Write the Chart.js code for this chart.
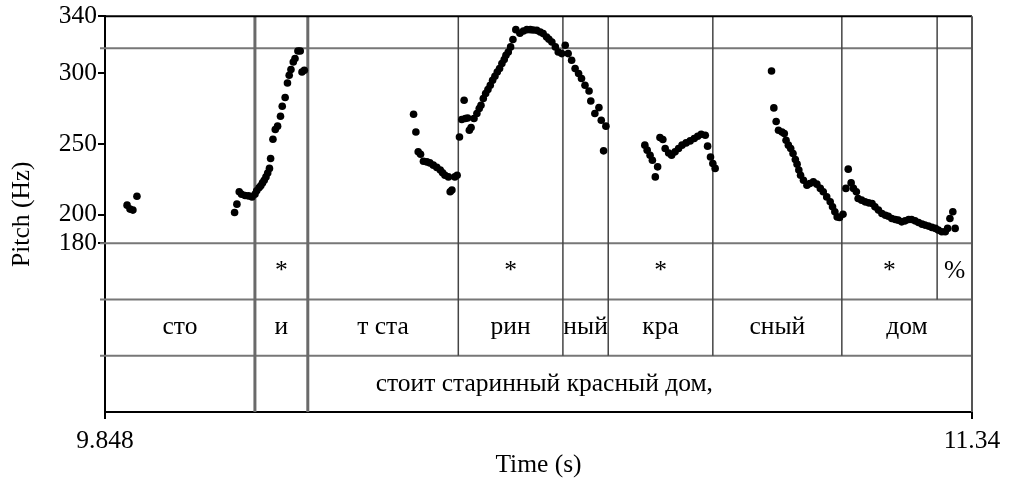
<!DOCTYPE html>
<html>
<head>
<meta charset="utf-8">
<script src="https://cdn.jsdelivr.net/npm/chart.js@4.4.0/dist/chart.umd.min.js"></script>
<style>
  html, body { margin: 0; padding: 0; background: #fff; }
</style>
</head>
<body>
<canvas id="pitchChart" width="1009" height="480"></canvas>
<script>
// Axis range
const timeStart = 9.848;
const timeEnd = 11.34;
const pitchTicks = [180, 200, 250, 300, 340];
const pitchTop = 340;
const pitchFloor = 180;
const refPitch = 317.5;

// Pitch track, one array per voiced stretch: [time (s), pitch (Hz)]
const segSto = [[9.886, 206.8], [9.891, 204.0], [9.896, 203.3], [9.903, 213.1]];
const segI = [
    [10.071, 201.6], [10.075, 207.5], [10.079, 216.2], [10.083, 214.5], [10.089, 213.6], [10.095, 213.3],
    [10.101, 212.6], [10.106, 214.5], [10.109, 216.9], [10.113, 219.0], [10.116, 220.4], [10.119, 222.5],
    [10.122, 224.4], [10.125, 226.7], [10.128, 229.5], [10.131, 232.7], [10.133, 239.7], [10.137, 253.3],
    [10.141, 260.1], [10.145, 262.5], [10.150, 269.5], [10.153, 276.6], [10.158, 282.7], [10.162, 293.0],
    [10.165, 298.4], [10.168, 302.4], [10.172, 307.8], [10.175, 310.2], [10.180, 315.5], [10.184, 315.5],
    [10.187, 300.7], [10.191, 301.9]
];
const segTsta = [
    [10.379, 270.9], [10.383, 258.4], [10.387, 244.4], [10.391, 242.7], [10.396, 237.8], [10.402, 237.3],
    [10.407, 236.6], [10.413, 235.0], [10.419, 233.4], [10.425, 231.5], [10.429, 229.6], [10.433, 227.9],
    [10.439, 226.7], [10.442, 216.2], [10.445, 217.4], [10.450, 226.7], [10.454, 227.9]
];
const segRin = [
    [10.458, 254.9], [10.462, 267.2], [10.466, 280.8], [10.468, 267.9], [10.472, 268.3], [10.475, 259.6],
    [10.478, 261.6], [10.483, 267.9], [10.488, 271.4], [10.492, 274.9], [10.495, 277.3], [10.499, 282.0],
    [10.503, 285.5], [10.507, 288.3], [10.511, 291.4], [10.515, 294.9], [10.519, 297.7], [10.523, 300.7],
    [10.527, 303.1], [10.531, 306.7], [10.535, 309.5], [10.538, 312.5], [10.542, 314.8], [10.546, 318.4],
    [10.550, 323.6], [10.555, 330.6], [10.562, 328.0], [10.568, 329.6], [10.574, 330.6], [10.580, 330.6],
    [10.585, 330.3], [10.591, 330.1], [10.597, 328.9], [10.602, 327.8], [10.608, 325.4], [10.612, 323.8],
    [10.617, 321.9], [10.623, 318.4], [10.628, 314.8], [10.634, 313.7], [10.640, 319.6], [10.645, 313.7],
    [10.651, 309.0], [10.657, 303.1], [10.663, 299.6], [10.668, 296.1], [10.674, 291.4], [10.681, 287.3],
    [10.684, 280.3], [10.691, 271.4], [10.698, 275.6], [10.702, 266.7], [10.706, 245.1], [10.710, 262.5]
];
const segKra = [
    [10.777, 249.1], [10.781, 245.6], [10.786, 242.0], [10.790, 238.5], [10.795, 226.7], [10.799, 233.8],
    [10.803, 254.5], [10.808, 253.1], [10.812, 246.7], [10.818, 243.6], [10.823, 242.0], [10.829, 244.4],
    [10.835, 246.7], [10.841, 249.1], [10.848, 250.7], [10.855, 252.1], [10.862, 253.8], [10.868, 255.4],
    [10.874, 256.8], [10.881, 256.1], [10.885, 248.4], [10.890, 240.8], [10.894, 236.2], [10.898, 232.7]
];
const segSny = [
    [10.995, 301.4], [10.999, 275.4], [11.003, 265.8], [11.007, 259.6], [11.013, 258.4], [11.017, 257.3],
    [11.020, 252.6], [11.024, 249.1], [11.028, 246.7], [11.032, 243.2], [11.036, 239.0], [11.039, 235.7],
    [11.042, 231.5], [11.045, 227.9], [11.050, 224.4], [11.056, 220.9], [11.061, 222.1], [11.067, 223.2],
    [11.073, 221.6], [11.079, 218.6], [11.084, 216.2], [11.090, 212.6], [11.096, 209.1], [11.100, 205.6],
    [11.104, 202.1], [11.108, 198.5], [11.112, 198.1], [11.118, 200.4]
];
const segDom = [
    [11.123, 218.6], [11.127, 232.2], [11.132, 222.5], [11.136, 218.6], [11.141, 216.2], [11.144, 211.5],
    [11.150, 210.3], [11.156, 209.1], [11.162, 208.4], [11.168, 208.0], [11.173, 205.6], [11.179, 203.3],
    [11.185, 200.9], [11.191, 199.7], [11.196, 199.0], [11.202, 197.4], [11.208, 196.7], [11.213, 196.2],
    [11.219, 195.0], [11.225, 195.7], [11.231, 196.7], [11.236, 196.7], [11.242, 195.7], [11.248, 194.6],
    [11.254, 193.4], [11.259, 192.7], [11.265, 192.0], [11.271, 191.1], [11.277, 190.4], [11.282, 189.2],
    [11.288, 188.0], [11.294, 188.0], [11.298, 190.4], [11.302, 197.4], [11.307, 202.1], [11.311, 190.4]
];

// TextGrid tiers (boundaries in seconds)
const toneBounds = [10.106, 10.197, 10.456, 10.636, 10.714, 10.894, 11.116, 11.280];
const toneLabels = ['', '*', '', '*', '', '*', '', '*', '%'];
const syllBounds = [10.106, 10.197, 10.456, 10.636, 10.714, 10.894, 11.116];
const syllLabels = ['сто', 'и', 'т ста', 'рин', 'ный', 'кра', 'сный', 'дом'];
const phraseBounds = [10.106, 10.197];
const phraseLabel = 'стоит старинный красный дом,';
const phraseLabelAt = 10.604;

const FONT = '"Liberation Serif", "Times New Roman", serif';
const FONT_SIZE = 25.5;
const tierCount = 3;

// pitch floor sits at 180 Hz; the three tiers take the band below it
const pitchMin = pitchTop - (pitchTop - pitchFloor) * 396 / 227;

const allPoints = [segSto, segI, segTsta, segRin, segKra, segSny, segDom]
    .flat()
    .map(p => ({ x: p[0], y: p[1] }));

function tierRows(chart) {
    const y = chart.scales.y;
    const area = chart.chartArea;
    const top = y.getPixelForValue(pitchFloor);
    const h = (area.bottom - top) / tierCount;
    const rows = [];
    for (let i = 0; i <= tierCount; i++) rows.push(top + i * h);
    return rows;
}

const textGridPlugin = {
    id: 'textGrid',
    beforeDatasetsDraw(chart) {
        const ctx = chart.ctx;
        const area = chart.chartArea;
        const x = chart.scales.x;
        const y = chart.scales.y;
        const rows = tierRows(chart);
        ctx.save();

        // horizontal lines: reference pitch, pitch floor, tier separators
        ctx.strokeStyle = '#777';
        ctx.lineWidth = 2;
        [y.getPixelForValue(refPitch), rows[0], rows[1], rows[2]].forEach(py => {
            ctx.beginPath();
            ctx.moveTo(area.left - 5, py);
            ctx.lineTo(area.right, py);
            ctx.stroke();
        });

        // interval boundaries
        toneBounds.forEach(t => {
            const px = x.getPixelForValue(t);
            let bottom = rows[1];
            if (syllBounds.includes(t)) bottom = rows[2];
            const major = phraseBounds.includes(t);
            if (major) bottom = rows[3];
            ctx.strokeStyle = major ? '#6a6a6a' : '#444';
            ctx.lineWidth = major ? 3 : 1.5;
            ctx.beginPath();
            ctx.moveTo(px, area.top);
            ctx.lineTo(px, bottom);
            ctx.stroke();
        });

        // frame: top and right
        ctx.strokeStyle = '#000';
        ctx.lineWidth = 2;
        ctx.beginPath();
        ctx.moveTo(area.left, area.top);
        ctx.lineTo(area.right, area.top);
        ctx.stroke();
        ctx.strokeStyle = '#555';
        ctx.beginPath();
        ctx.moveTo(area.right, area.top);
        ctx.lineTo(area.right, area.bottom);
        ctx.stroke();
        ctx.restore();
    },
    afterDraw(chart) {
        const ctx = chart.ctx;
        const area = chart.chartArea;
        const x = chart.scales.x;
        const rows = tierRows(chart);
        ctx.save();
        ctx.fillStyle = '#000';
        ctx.font = FONT_SIZE + 'px ' + FONT;
        ctx.textAlign = 'center';
        ctx.textBaseline = 'middle';

        const drawTier = (bounds, labels, row) => {
            const edges = [timeStart, ...bounds, timeEnd];
            const cy = (rows[row] + rows[row + 1]) / 2;
            labels.forEach((lab, i) => {
                if (!lab) return;
                const cx = (x.getPixelForValue(edges[i]) + x.getPixelForValue(edges[i + 1])) / 2;
                ctx.fillText(lab, cx, cy);
            });
        };
        drawTier(toneBounds, toneLabels, 0);
        drawTier(syllBounds, syllLabels, 1);
        ctx.fillText(phraseLabel, x.getPixelForValue(phraseLabelAt), (rows[2] + rows[3]) / 2);

        // axis titles
        ctx.fillText('Time (s)', (area.left + area.right) / 2, 465);
        ctx.translate(22, (area.top + area.bottom) / 2);
        ctx.rotate(-Math.PI / 2);
        ctx.fillText('Pitch (Hz)', 0, 0);
        ctx.restore();
    }
};

new Chart(document.getElementById('pitchChart'), {
    type: 'scatter',
    data: {
        datasets: [{
            data: allPoints,
            backgroundColor: '#000',
            borderWidth: 0,
            pointRadius: 3.8,
            pointHoverRadius: 3.8
        }]
    },
    options: {
        responsive: false,
        animation: false,
        events: [],
        layout: { padding: { top: 16, right: 37, left: 0, bottom: 0 } },
        plugins: {
            legend: { display: false },
            tooltip: { enabled: false }
        },
        scales: {
            x: {
                type: 'linear',
                min: timeStart,
                max: timeEnd,
                afterBuildTicks: scale => { scale.ticks = [{ value: timeStart }, { value: timeEnd }]; },
                afterFit: scale => { scale.height = 68; },
                ticks: {
                    color: '#000',
                    font: { family: FONT, size: FONT_SIZE },
                    padding: 7,
                    autoSkip: false,
                    maxRotation: 0,
                    callback: v => String(v)
                },
                grid: { drawOnChartArea: false, drawTicks: true, tickLength: 7, color: '#000', lineWidth: 2 },
                border: { display: true, color: '#000', width: 2 }
            },
            y: {
                min: pitchMin,
                max: pitchTop,
                afterBuildTicks: scale => { scale.ticks = pitchTicks.map(v => ({ value: v })); },
                afterFit: scale => { scale.width = 105; },
                ticks: {
                    color: '#000',
                    font: { family: FONT, size: FONT_SIZE },
                    padding: 1,
                    autoSkip: false
                },
                grid: { drawOnChartArea: false, drawTicks: true, tickLength: 7, color: '#000', lineWidth: 2 },
                border: { display: true, color: '#000', width: 2 }
            }
        }
    },
    plugins: [textGridPlugin]
});
</script>
</body>
</html>
